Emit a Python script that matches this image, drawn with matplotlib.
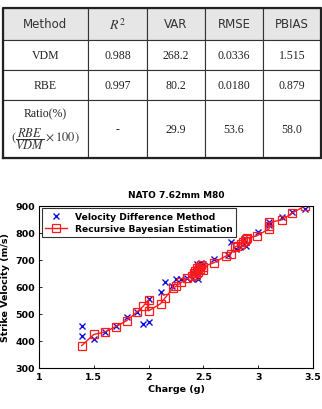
import numpy as np
import matplotlib.pyplot as plt

plt.rcParams['mathtext.fontset'] = 'stix'

# Table contents
col_labels = ['Method', '$R^2$', 'VAR', 'RMSE', 'PBIAS']
row_vdm = ['VDM', '0.988', '268.2', '0.0336', '1.515']
row_rbe = ['RBE', '0.997', '80.2', '0.0180', '0.879']
row_ratio = ['', '-', '29.9', '53.6', '58.0']
ratio_label = 'Ratio(%)'
ratio_formula = '$(\\dfrac{RBE}{VDM}\\times 100)$'

# Velocity Difference Method points
vdm_charge = [1.39, 1.39, 1.50, 1.60, 1.70, 1.80, 1.89, 1.95, 2.00, 2.00, 2.11, 2.15,
              2.21, 2.25, 2.30, 2.35, 2.40, 2.42, 2.44, 2.45, 2.46, 2.48, 2.50, 2.60,
              2.72, 2.75, 2.80, 2.83, 2.87, 2.89, 3.00, 3.10, 3.10, 3.22, 3.31, 3.43]
vdm_velocity = [455, 417, 406, 433, 456, 488, 506, 461, 469, 555, 580, 617,
                604, 629, 629, 632, 628, 650, 684, 629, 660, 688, 684, 703,
                718, 764, 740, 748, 777, 752, 804, 838, 830, 860, 875, 888]

# Recursive Bayesian Estimation points
rbe_charge = [1.39, 1.50, 1.60, 1.70, 1.80, 1.89, 1.95, 2.00, 2.00, 2.11, 2.15, 2.22,
              2.25, 2.30, 2.35, 2.40, 2.41, 2.42, 2.43, 2.44, 2.45, 2.46, 2.47, 2.48,
              2.50, 2.50, 2.60, 2.71, 2.75, 2.79, 2.81, 2.84, 2.86, 2.88, 2.89, 2.90,
              2.99, 3.10, 3.10, 3.10, 3.22, 3.31, 3.43]
rbe_velocity = [383, 424, 433, 453, 475, 506, 528, 553, 511, 538, 559, 594,
                602, 617, 631, 640, 650, 660, 645, 670, 655, 675, 665, 680,
                662, 675, 690, 715, 721, 748, 752, 758, 765, 770, 777, 780,
                789, 815, 826, 838, 848, 873, 900]

fig = plt.figure(figsize=(3.22, 4.10), dpi=100)

# --- table ---
tax = fig.add_axes([3 / 322, 1 - 159 / 410, 318 / 322, 150 / 410])
tax.axis('off')
col_w = np.array([85, 59, 58, 58, 58]) / 318
tbl = tax.table(cellText=[row_vdm, row_rbe, row_ratio], colLabels=col_labels,
                colWidths=list(col_w), cellLoc='center', bbox=[0, 0, 1, 1])
tbl.set_zorder(1)
tbl.auto_set_font_size(False)
row_h = [32, 30, 30, 58]
for (r, c), cell in tbl.get_celld().items():
    cell.set_height(row_h[r] / 150)
    cell.set_linewidth(0.8)
    cell.set_edgecolor('#333333')
    txt = cell.get_text()
    if r == 0:
        cell.set_facecolor('#e6e6e6')
        txt.set_fontsize(8.5)
        txt.set_color('#333333')
        if c == 1:
            txt.set_fontsize(10)
    else:
        txt.set_family('Liberation Serif')
        txt.set_fontsize(8.5)
        txt.set_color('#222222')

# two-line label in the ratio row
tax.text(col_w[0] / 2, 0.295, ratio_label, ha='center', va='center',
         family='Liberation Serif', fontsize=8.5, color='#222222', zorder=5,
         transform=tax.transAxes)
tax.text(col_w[0] / 2, 0.13, ratio_formula, ha='center', va='center',
         fontsize=9, color='#333333', zorder=5, transform=tax.transAxes)

# thicker outer frame
tax.plot([0, 1, 1, 0, 0], [0, 0, 1, 1, 0], color='#222222', lw=1.6,
         transform=tax.transAxes, clip_on=False, zorder=6)

# --- chart ---
ax = fig.add_axes([39 / 322, 0.1, 274 / 322, 162.3 / 410])
ax.plot(vdm_charge, vdm_velocity, 'x', color='#1010e0', markersize=4.5, mew=1.0,
        label='Velocity Difference Method')
ax.plot(rbe_charge, rbe_velocity, '-s', color='#ff1a1a', markersize=5.5, mew=0.9,
        mfc='none', lw=1.0, label='Recursive Bayesian Estimation')

ax.set_xlim(1, 3.5)
ax.set_ylim(300, 900)
ax.set_xticks([1, 1.5, 2, 2.5, 3, 3.5])
ax.set_xticklabels(['1', '1.5', '2', '2.5', '3', '3.5'])
ax.set_yticks(range(300, 901, 100))
ax.tick_params(direction='in', length=2.5, width=0.6, labelsize=6.8, pad=3,
               top=False, right=False)
for lbl in ax.get_xticklabels() + ax.get_yticklabels():
    lbl.set_fontweight('bold')
for s in ax.spines.values():
    s.set_linewidth(0.8)

ax.set_title('NATO 7.62mm M80', fontsize=6.5, fontweight='bold', pad=6)
ax.set_xlabel('Charge (g)', fontsize=6.8, fontweight='bold', labelpad=2)
ax.set_ylabel('Strike Velocity (m/s)', fontsize=6.8, fontweight='bold', labelpad=4)

leg = ax.legend(loc='upper left', prop={'weight': 'bold', 'size': 6.6},
                fancybox=False, edgecolor='black', borderaxespad=0.3,
                handlelength=2.4, borderpad=0.4, labelspacing=0.35)
leg.get_frame().set_linewidth(0.8)

fig.savefig('out.png', dpi=100)
